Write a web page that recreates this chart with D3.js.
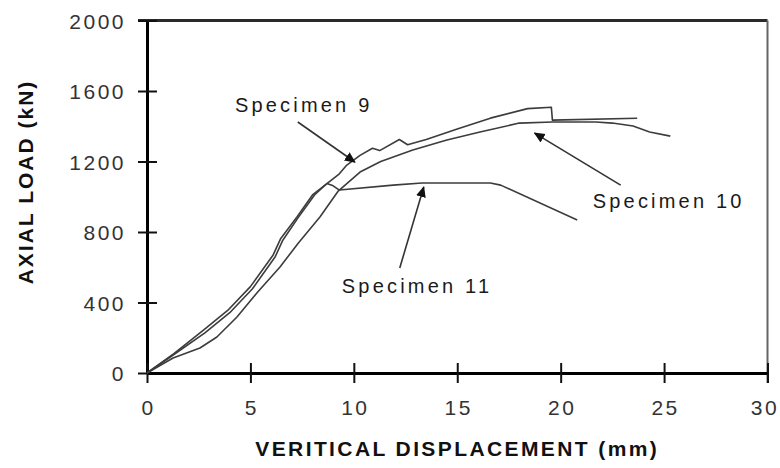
<!DOCTYPE html>
<html>
<head>
<meta charset="utf-8">
<script src="https://cdn.jsdelivr.net/npm/d3@7"></script>
<style>
body { margin: 0; background: #fff; }
svg { display: block; font-family: "Liberation Sans", Arial, sans-serif; }
</style>
</head>
<body>
<div id="chart"></div>
<script>
// [displacement mm, axial load kN]
const specimen9 = [
    [0, 0], [1.3, 110], [2.7, 240], [3.9, 355], [5.0, 490], [6.1, 670], [6.45, 760],
    [7.25, 885], [8.0, 1010], [8.7, 1075], [9.3, 1130], [9.66, 1180], [10.3, 1235],
    [10.9, 1275], [11.25, 1262], [12.2, 1325], [12.6, 1295], [13.5, 1325], [15.0, 1385],
    [16.6, 1446], [18.4, 1500], [19.55, 1508], [19.6, 1435], [23.7, 1445]
];
const specimen10 = [
    [0, 0], [1.26, 85], [2.56, 142], [3.38, 204], [4.35, 318], [5.31, 454], [6.43, 601],
    [7.3, 735], [8.36, 885], [9.23, 1030], [10.3, 1140], [11.3, 1200], [12.85, 1265],
    [14.5, 1322], [16.1, 1367], [18.0, 1418], [19.6, 1424], [21.7, 1424], [22.5, 1418],
    [23.5, 1401], [24.3, 1367], [25.3, 1344]
];
const specimen11 = [
    [0, 0], [1.3, 105], [2.8, 228], [4.0, 342], [5.1, 478], [6.2, 660], [6.55, 750],
    [7.3, 880], [8.1, 1010], [8.7, 1075], [9.0, 1062], [9.3, 1038], [11.9, 1066],
    [13.3, 1078], [16.6, 1078], [17.1, 1066], [20.8, 868]
];
const xTicks = [0, 5, 10, 15, 20, 25, 30];
const yTicks = [0, 400, 800, 1200, 1600, 2000];
// label text, label anchor, arrow tail, arrow tip (data units)
const annotations = [
    { text: 'Specimen 9', label: [4.25, 1480], from: [7.29, 1424], to: [10.05, 1197] },
    { text: 'Specimen 10', label: [21.55, 936], from: [22.9, 1066], to: [18.74, 1361] },
    { text: 'Specimen 11', label: [9.42, 454], from: [12.22, 596], to: [13.38, 1055] }
];

const width = 780;
const height = 468;
const paddingLeft = 147;
const paddingRight = 12.5;
const paddingTop = 20.5;
const paddingBottom = 95;

const xScale = d3.scaleLinear()
    .domain([0, 30])
    .range([paddingLeft, width - paddingRight]);
const yScale = d3.scaleLinear()
    .domain([0, 2000])
    .range([height - paddingBottom, paddingTop]);

const svg = d3.select('#chart').append('svg')
    .attr('width', width)
    .attr('height', height);

const defs = svg.append('defs');
defs.append('marker')
    .attr('id', 'head')
    .attr('viewBox', '0 0 10 10')
    .attr('refX', 9)
    .attr('refY', 5)
    .attr('markerWidth', 11)
    .attr('markerHeight', 11)
    .attr('markerUnits', 'userSpaceOnUse')
    .attr('orient', 'auto')
    .append('path')
    .attr('d', 'M0,0.5 L10,5 L0,9.5 Z')
    .attr('fill', '#111');

// frame: top and right edges
svg.append('line')
    .attr('x1', xScale(0) - 9)
    .attr('x2', xScale(30))
    .attr('y1', yScale(2000))
    .attr('y2', yScale(2000))
    .attr('stroke', '#2a2a2a')
    .attr('stroke-width', 3);
svg.append('line')
    .attr('x1', xScale(30))
    .attr('x2', xScale(30))
    .attr('y1', yScale(2000))
    .attr('y2', yScale(0) + 10)
    .attr('stroke', '#666')
    .attr('stroke-width', 2);

// axes
const yAxis = d3.axisLeft(yScale)
    .tickValues(yTicks)
    .tickFormat(d3.format('d'))
    .tickSize(9)
    .tickSizeOuter(0)
    .tickPadding(12);
const xAxis = d3.axisBottom(xScale)
    .tickValues(xTicks)
    .tickFormat(d3.format('d'))
    .tickSize(10)
    .tickSizeOuter(0)
    .tickPadding(17);

const gy = svg.append('g')
    .attr('transform', `translate(${paddingLeft},0)`)
    .call(yAxis);
const gx = svg.append('g')
    .attr('transform', `translate(0,${height - paddingBottom})`)
    .call(xAxis);

[gx, gy].forEach((g) => {
    g.select('.domain').attr('stroke', '#000').attr('stroke-width', 3);
    g.selectAll('.tick line').attr('stroke', '#111').attr('stroke-width', 2);
    g.selectAll('.tick text')
        .attr('fill', '#333')
        .style('font-size', '21px')
        .style('letter-spacing', '2.5px');
});
gy.selectAll('.tick line').attr('x1', 10);
gy.selectAll('.tick text').attr('dy', '0.36em');
gx.selectAll('.tick line').attr('y1', -10);
// the last label sits against the right edge of the picture
gx.selectAll('.tick text').attr('dx', (d) => (d === 30 ? '-3px' : '1px'));

// axis titles
svg.append('text')
    .attr('x', (xScale(0) + xScale(30)) / 2)
    .attr('y', 456)
    .attr('text-anchor', 'middle')
    .style('font-size', '21px')
    .style('font-weight', 'bold')
    .style('letter-spacing', '2.4px')
    .attr('fill', '#111')
    .text('VERITICAL DISPLACEMENT (mm)');
svg.append('text')
    .attr('transform', `translate(33,182) rotate(-90)`)
    .attr('text-anchor', 'middle')
    .style('font-size', '21px')
    .style('font-weight', 'bold')
    .style('letter-spacing', '2px')
    .attr('fill', '#111')
    .text('AXIAL LOAD (kN)');

// curves
const linePath = d3.line()
    .x((d) => xScale(d[0]))
    .y((d) => yScale(d[1]));
[specimen9, specimen10, specimen11].forEach((series) => {
    svg.append('path')
        .attr('d', linePath(series))
        .attr('fill', 'none')
        .attr('stroke', '#3c3c3c')
        .attr('stroke-width', 1.6)
        .attr('stroke-linejoin', 'round');
});

// annotations
const notes = svg.append('g').attr('class', 'notes');
annotations.forEach((a) => {
    notes.append('line')
        .attr('x1', xScale(a.from[0]))
        .attr('y1', yScale(a.from[1]))
        .attr('x2', xScale(a.to[0]))
        .attr('y2', yScale(a.to[1]))
        .attr('stroke', '#333')
        .attr('stroke-width', 1.6)
        .attr('marker-end', 'url(#head)');
    notes.append('text')
        .attr('x', xScale(a.label[0]))
        .attr('y', yScale(a.label[1]))
        .style('font-size', '20px')
        .style('letter-spacing', '3.2px')
        .attr('fill', '#1a1a1a')
        .text(a.text);
});
</script>
</body>
</html>
